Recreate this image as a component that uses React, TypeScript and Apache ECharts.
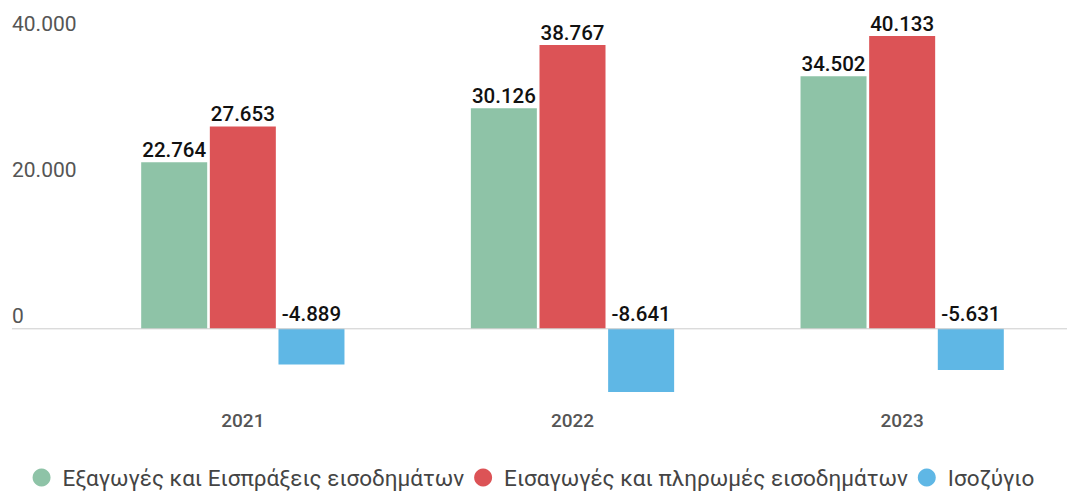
import React, { useEffect, useRef } from "react";
import * as echarts from "echarts";

const categories = ["2021", "2022", "2023"];
const exportsValues = [22764, 30126, 34502];
const importsValues = [27653, 38767, 40133];
const balanceValues = [-4889, -8641, -5631];
const seriesNames = [
  "Εξαγωγές και Εισπράξεις εισοδημάτων",
  "Εισαγωγές και πληρωμές εισοδημάτων",
  "Ισοζύγιο",
];
const colors = ["#8ec3a7", "#dc5356", "#5fb7e5"];
const shownTicks = [0, 20000, 40000];

const fmt = (v: number) => {
  const s = String(Math.abs(Math.round(v))).replace(/\B(?=(\d{3})+(?!\d))/g, ".");
  return (v < 0 ? "-" : "") + s;
};

const FONT = "Roboto, 'Noto Sans', sans-serif";

export default function App() {
  const ref = useRef<HTMLDivElement>(null);
  useEffect(() => {
    if (!ref.current) return;
    const chart = echarts.init(ref.current, undefined, { renderer: "svg" });
    const valueLabel = {
      show: true,
      position: "top" as const,
      distance: 2,
      color: "#111",
      fontSize: 20.5,
      fontWeight: 500,
      fontFamily: FONT,
      formatter: (p: any) => fmt(p.value),
    };
    chart.setOption({
      animation: false,
      textStyle: { fontFamily: FONT },
      grid: { left: 78, right: -8, top: 36, bottom: 89, containLabel: false },
      legend: {
        left: "center",
        top: 466,
        padding: 0,
        icon: "circle",
        itemWidth: 18,
        itemHeight: 18,
        itemGap: 10,
        textStyle: {
          fontSize: 22.5,
          color: "#444",
          fontFamily: FONT,
          padding: [0, 0, 0, 7],
        },
        data: seriesNames,
      },
      xAxis: {
        type: "category",
        data: categories,
        axisLine: { show: false, onZero: false },
        axisTick: { show: false },
        axisLabel: { margin: 9, fontSize: 19, fontWeight: 500, color: "#555", fontFamily: FONT },
      },
      yAxis: {
        type: "value",
        min: -10000,
        max: 40000,
        interval: 10000,
        splitLine: { show: false },
        axisLine: { show: false },
        axisTick: { show: false },
        axisLabel: {
          align: "left",
          verticalAlign: "bottom",
          margin: 66,
          padding: [0, 0, 2, 0],
          fontSize: 21,
          color: "#555",
          fontFamily: FONT,
          formatter: (v: number) => (shownTicks.includes(v) ? fmt(v) : ""),
        },
      },
      series: [
        {
          name: seriesNames[0],
          type: "bar",
          data: exportsValues,
          barWidth: 66,
          barGap: "4%",
          itemStyle: { color: colors[0] },
          label: valueLabel,
        },
        {
          name: seriesNames[1],
          type: "bar",
          data: importsValues,
          barWidth: 66,
          barGap: "4%",
          itemStyle: { color: colors[1] },
          label: valueLabel,
        },
        {
          name: seriesNames[2],
          type: "bar",
          data: balanceValues,
          barWidth: 66,
          barGap: "4%",
          itemStyle: { color: colors[2] },
          label: { ...valueLabel, position: "top", distance: 4 },
          z: 3,
        },
      ],
    });
    const y0 = chart.convertToPixel({ yAxisIndex: 0 }, 0) as number;
    chart.setOption({
      graphic: [
        {
          type: "line",
          shape: { x1: 12, y1: y0, x2: 1067, y2: y0 },
          style: { stroke: "#cccccc", lineWidth: 1 },
          z: 10,
          silent: true,
        },
      ],
    });
    return () => chart.dispose();
  }, []);
  return (
    <div
      ref={ref}
      style={{ position: "absolute", left: 0, top: 0, width: 1067, height: 491 }}
    />
  );
}
